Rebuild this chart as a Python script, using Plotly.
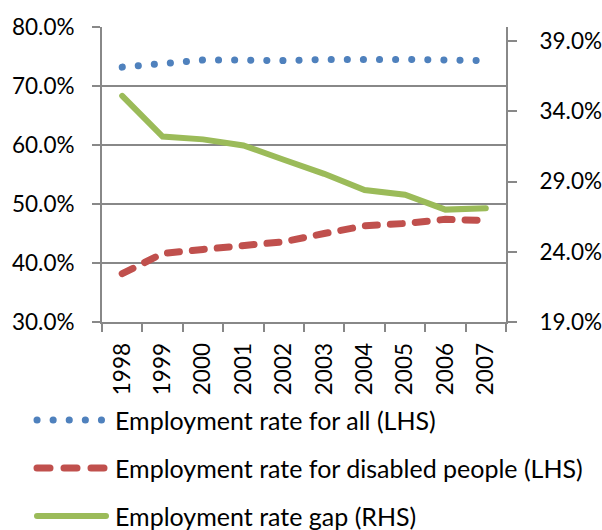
import plotly.graph_objects as go

years = ["1998", "1999", "2000", "2001", "2002", "2003", "2004", "2005", "2006", "2007"]
rate_all = [0.732, 0.737, 0.744, 0.744, 0.743, 0.745, 0.746, 0.745, 0.744, 0.743]
rate_disabled = [0.382, 0.416, 0.423, 0.429, 0.436, 0.450, 0.463, 0.467, 0.474, 0.472]
rate_gap = [0.351, 0.322, 0.320, 0.3157, 0.3055, 0.2955, 0.284, 0.2806, 0.270, 0.271]
names = ["Employment rate for all (LHS)",
         "Employment rate for disabled people (LHS)",
         "Employment rate gap (RHS)"]
left_ticks = [0.3, 0.4, 0.5, 0.6, 0.7, 0.8]
right_ticks = [0.19, 0.24, 0.29, 0.34, 0.39]

BLUE = "#4F81BD"
RED = "#C0504D"
GREEN = "#9BBB59"
GRID = "#888888"
FONT = "Lato"
TICK_SIZE = 22.5
LEG_SIZE = 25

W, H = 602, 530
ML, MR, MT, MB = 102, 96, 27, 208
PW, PH = W - ML - MR, H - MT - MB


def px_x(x):
    return (x - ML) / PW


def px_y(y):
    return (H - MB - y) / PH


dot_style = dict(color=BLUE, width=7, dash="0.1px,16px")
dash_style = dict(color=RED, width=7, dash="12px,13px")
solid_style = dict(color=GREEN, width=6)

fig = go.Figure()
fig.add_trace(go.Scatter(x=years, y=rate_all, mode="lines", name=names[0],
                         line=dot_style, showlegend=False))
fig.add_trace(go.Scatter(x=years, y=rate_disabled, mode="lines", name=names[1],
                         line=dash_style, showlegend=False))
fig.add_trace(go.Scatter(x=years, y=rate_gap, mode="lines", name=names[2], yaxis="y2",
                         line=solid_style, showlegend=False))

styles = [dot_style, dict(color=RED, width=7, dash="13px,14px"), solid_style]
rows_y = [420, 468, 516]
shapes = []
annotations = []
for nm, st, ry in zip(names, styles, rows_y):
    shapes.append(dict(type="line", xref="paper", yref="paper",
                       x0=px_x(37), x1=px_x(106), y0=px_y(ry), y1=px_y(ry),
                       line=st))
    annotations.append(dict(text=nm, xref="paper", yref="paper",
                            x=px_x(113), y=px_y(ry), xanchor="left", yanchor="middle",
                            showarrow=False,
                            font=dict(family=FONT, size=LEG_SIZE, color="#000000")))

fig.update_layout(
    width=W, height=H,
    margin=dict(l=ML, r=MR, t=MT, b=MB, pad=0, autoexpand=False),
    paper_bgcolor="white", plot_bgcolor="white",
    font=dict(family=FONT, size=TICK_SIZE, color="#000000"),
    showlegend=False,
    shapes=shapes,
    annotations=annotations,
    xaxis=dict(type="category", tickson="boundaries", ticks="outside", ticklen=8,
               tickcolor=GRID, tickwidth=2, showline=True, linecolor=GRID, linewidth=2,
               showgrid=False, tickangle=-90, ticklabelstandoff=10,
               range=[-0.5, 9.5], automargin=False),
    yaxis=dict(range=[0.3, 0.8], tickvals=left_ticks, tickformat=".1%",
               showgrid=True, gridcolor=GRID, gridwidth=1.5, zeroline=False,
               showline=True, linecolor=GRID, linewidth=2,
               ticks="outside", ticklen=8, tickcolor=GRID, tickwidth=2,
               ticklabelstandoff=13, automargin=False),
    yaxis2=dict(range=[0.19, 0.40], tickvals=right_ticks, tickformat=".1%",
                overlaying="y", side="right", showgrid=False, zeroline=False,
                showline=True, linecolor=GRID, linewidth=2,
                ticks="outside", ticklen=9, tickcolor=GRID, tickwidth=2,
                ticklabelstandoff=18, automargin=False),
)

post = """
document.querySelectorAll('.js-line, .shapelayer path').forEach(function(p){
  p.style.strokeLinecap = 'round';
});
"""
fig.write_html("out.html", post_script=post)
